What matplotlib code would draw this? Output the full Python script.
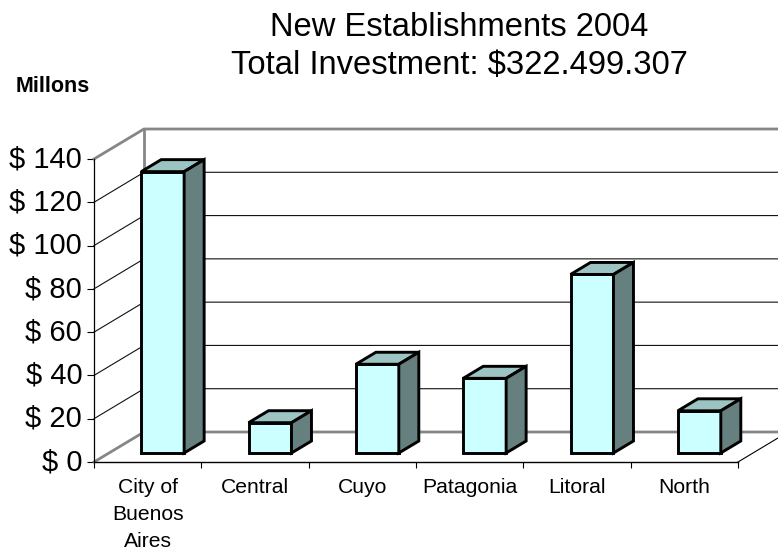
import matplotlib
matplotlib.use("Agg")
import matplotlib.pyplot as plt
from matplotlib.patches import Polygon
from matplotlib.transforms import ScaledTranslation

plt.rcParams["font.family"] = ["Liberation Sans", "DejaVu Sans"]

# Data
regions = ["City of\nBuenos\nAires", "Central", "Cuyo", "Patagonia", "Litoral", "North"]
investment = [130, 14, 41, 34.5, 82.5, 19.5]
value_ticks = [0, 20, 40, 60, 80, 100, 120, 140]

W, H = 778, 550
FRONT, TOP, SIDE = "#CCFFFF", "#9BC4C2", "#668080"
GREY = "#868686"

# the oblique offset of the back wall, in data units (50 px right, 30 px up)
PX_X = 107.33
PX_Y = 303 / 140
DX = 50 / PX_X
DY = 30 / PX_Y


def proj(x, y, depth=0.0):
    return (x + depth * DX, y + depth * DY)


def draw_bar(ax, i, val, width=0.4, d0=0.3, d1=0.7):
    x0 = i + 0.5 - width / 2
    x1 = i + 0.5 + width / 2
    style = dict(edgecolor="black", linewidth=2.1, joinstyle="miter", clip_on=False, zorder=5)
    ax.add_patch(Polygon([proj(x0, 0, d0), proj(x1, 0, d0), proj(x1, val, d0), proj(x0, val, d0)],
                         facecolor=FRONT, **style))
    ax.add_patch(Polygon([proj(x0, val, d0), proj(x1, val, d0), proj(x1, val, d1), proj(x0, val, d1)],
                         facecolor=TOP, **style))
    ax.add_patch(Polygon([proj(x1, 0, d0), proj(x1, 0, d1), proj(x1, val, d1), proj(x1, val, d0)],
                         facecolor=SIDE, **style))


fig = plt.figure(figsize=(W / 100, H / 100), dpi=100)
ax = fig.add_axes([94 / W, 1 - 462 / H, 644 / W, 303 / H])
ax.set_xlim(0, len(regions))
ax.set_ylim(0, 140)

for s in ["top", "right"]:
    ax.spines[s].set_visible(False)
ax.spines["left"].set_color("black")
ax.spines["left"].set_linewidth(0.9)
ax.spines["bottom"].set_color("black")
ax.spines["bottom"].set_linewidth(1.0)

n = len(regions)

# back wall and side wall lines
for v in value_ticks:
    edge = v in (0, 140)
    color = GREY if edge else "#111111"
    lw = 2.0 if edge else 0.8
    xs, ys = zip(proj(0, v, 0), proj(0, v, 1), proj(n + 0.5, v, 1))
    ax.plot(xs, ys, color=color, lw=lw, clip_on=False, zorder=2, solid_joinstyle="miter")
xs, ys = zip(proj(0, 0, 1), proj(0, 140, 1))
ax.plot(xs, ys, color=GREY, lw=2.0, clip_on=False, zorder=2)

# floor edge on the right
xs, ys = zip(proj(n, 0, 0), proj(n, 0, 1))
ax.plot(xs, ys, color="black", lw=0.8, clip_on=False, zorder=2)

for i, val in enumerate(investment):
    draw_bar(ax, i, val)

ax.set_yticks(value_ticks)
ax.set_yticklabels([f"$ {v}" for v in value_ticks], fontsize=21)
ax.tick_params(axis="y", length=5, width=0.8, pad=3.5)
# labels sit a little above their ticks in the original
nudge = ScaledTranslation(0, 2 / 72, fig.dpi_scale_trans)
for label in ax.get_yticklabels():
    label.set_transform(label.get_transform() + nudge)

ax.set_xticks(range(n + 1))
ax.set_xticklabels([])
ax.tick_params(axis="x", length=4.5, width=0.8)
ax.set_xticks([i + 0.5 for i in range(n)], minor=True)
ax.set_xticklabels(regions, minor=True, fontsize=15.2, linespacing=1.52)
ax.tick_params(axis="x", which="minor", length=0, pad=11.5)

fig.text(459 / W, 1 - 27 / H, "New Establishments 2004", fontsize=23.6, ha="center", va="center")
fig.text(459 / W, 1 - 65.5 / H, "Total Investment: $322.499.307", fontsize=23.6, ha="center", va="center")
fig.text(53 / W, 1 - 87 / H, "Millons", fontsize=15.5, fontweight="bold", ha="center", va="center")

fig.savefig("out.png", dpi=100)
